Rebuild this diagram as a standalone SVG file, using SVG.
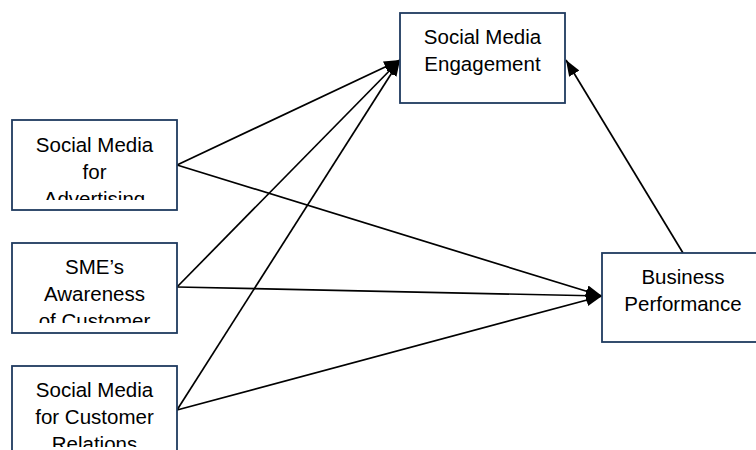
<svg xmlns="http://www.w3.org/2000/svg" width="756" height="450" viewBox="0 0 756 450">
<style>
.box{fill:#ffffff;stroke:#1f3a5f;stroke-width:1.8}
.lbl{font-family:"Liberation Sans",Arial,sans-serif;font-size:20.5px;fill:#000000;text-anchor:middle}
.edge{stroke:#000000;stroke-width:1.7;fill:none;marker-end:url(#arr)}
</style>
<defs>
<marker id="arr" viewBox="0 0 16 12" refX="16" refY="6" markerWidth="16" markerHeight="12" markerUnits="userSpaceOnUse" orient="auto">
<path d="M0,0 L16,6 L0,12 Z" fill="#000000"/>
</marker>
<clipPath id="c1"><rect x="13" y="121" width="163" height="79"/></clipPath>
<clipPath id="c2"><rect x="13" y="244" width="163" height="79"/></clipPath>
<clipPath id="c3"><rect x="13" y="367" width="163" height="80"/></clipPath>
</defs>
<g id="connectors">
<line class="edge" x1="177" y1="165" x2="400" y2="60"/>
<line class="edge" x1="177" y1="165" x2="602" y2="296"/>
<line class="edge" x1="177" y1="287" x2="400" y2="60"/>
<line class="edge" x1="177" y1="287" x2="602" y2="296"/>
<line class="edge" x1="177" y1="410" x2="400" y2="60"/>
<line class="edge" x1="177" y1="410" x2="602" y2="296"/>
<line class="edge" x1="683" y1="253" x2="566" y2="60"/>
</g>
<g id="node-advertising">
<rect class="box" x="12" y="120" width="165" height="90"/>
<g clip-path="url(#c1)">
<text class="lbl" x="94.5" y="151.5">Social Media</text>
<text class="lbl" x="94.5" y="178.5">for</text>
<text class="lbl" x="94.5" y="205.5">Advertising</text>
</g>
</g>
<g id="node-awareness">
<rect class="box" x="12" y="243" width="165" height="90"/>
<g clip-path="url(#c2)">
<text class="lbl" x="94.5" y="273.5">SME’s</text>
<text class="lbl" x="94.5" y="300.5">Awareness</text>
<text class="lbl" x="94.5" y="327.5">of Customer</text>
</g>
</g>
<g id="node-relations">
<rect class="box" x="12" y="366" width="165" height="100"/>
<g clip-path="url(#c3)">
<text class="lbl" x="94.5" y="397">Social Media</text>
<text class="lbl" x="94.5" y="424">for Customer</text>
<text class="lbl" x="94.5" y="451">Relations</text>
</g>
</g>
<g id="node-engagement">
<rect class="box" x="400" y="13" width="165" height="90"/>
<text class="lbl" x="482.5" y="43.5">Social Media</text>
<text class="lbl" x="482.5" y="70.5">Engagement</text>
</g>
<g id="node-performance">
<rect class="box" x="602" y="253" width="165" height="89"/>
<text class="lbl" x="683" y="283.5">Business</text>
<text class="lbl" x="683" y="310.5">Performance</text>
</g>
</svg>
